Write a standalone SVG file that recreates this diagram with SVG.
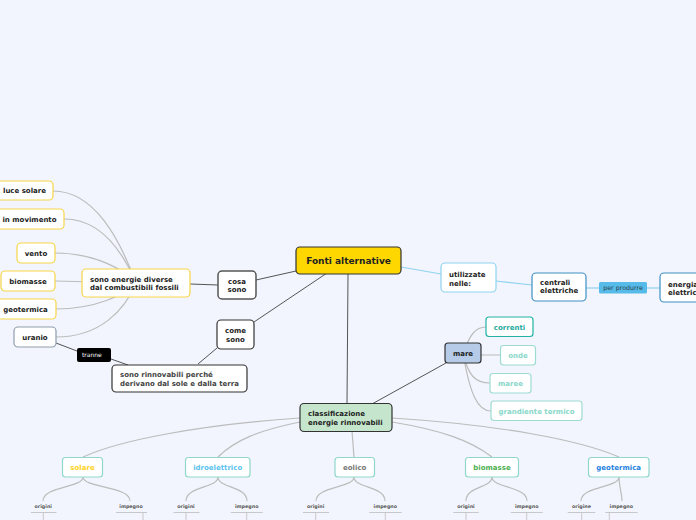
<svg xmlns="http://www.w3.org/2000/svg" width="696" height="520" viewBox="0 0 696 520">
<style>
text{font-family:"DejaVu Sans","Liberation Sans",sans-serif;font-weight:bold;font-size:7px;fill:#222}
.c{text-anchor:middle}
.dk{fill:none;stroke:#555;stroke-width:1}
.gr{fill:none;stroke:#bcbcbc;stroke-width:1.2}
.bl{fill:none;stroke:#8fd3f0;stroke-width:1.2}
.leaf{fill:#fff;stroke:#f7d54a;stroke-width:1.2}
.cat{fill:#fff;stroke:#8fd8cb;stroke-width:1.2}
.sub{font-size:4.8px;fill:#555}
.ul{fill:none;stroke:#c8c8cc;stroke-width:1}
</style>
<rect width="696" height="520" fill="#f2f5fd"/>
<g id="connectors">
<path class="gr" d="M53,191 C95,191 120,240 136,283"/>
<path class="gr" d="M64,219 C100,219 122,250 136,283"/>
<path class="gr" d="M55,253 C95,253 125,270 136,283"/>
<path class="gr" d="M55,281 L136,283"/>
<path class="gr" d="M56,309 C95,309 125,295 136,283"/>
<path class="gr" d="M56,337 C100,337 125,310 136,283"/>
<path class="dk" d="M190,284 L218,285"/>
<path class="dk" d="M296,271 L256,280"/>
<path class="dk" d="M327,273 L254,322"/>
<path class="dk" d="M217,348 L198,364"/>
<path class="dk" d="M56,343 L77,351"/>
<path class="dk" d="M111,359 L128,365"/>
<path class="dk" d="M348,274 L347,403"/>
<path class="bl" d="M401,267 L441,274"/>
<path class="bl" d="M496,281 L532,285"/>
<path class="bl" d="M586,288 L599,288"/>
<path class="bl" d="M647,288 L660,288"/>
<path class="dk" d="M446,363 L372,404"/>
<path class="gr" d="M463,353 C470,335 475,327 486,327"/>
<path class="gr" d="M463,355 L500,355"/>
<path class="gr" d="M463,353 C468,375 475,383 490,383"/>
<path class="gr" d="M463,353 C470,395 478,411 491,411"/>
<path class="gr" d="M300,418 C200,425 120,440 83,457"/>
<path class="gr" d="M300,422 C260,430 235,440 218,457"/>
<path class="gr" d="M352,431 L354,457"/>
<path class="gr" d="M392,422 C440,430 470,440 492,457"/>
<path class="gr" d="M392,418 C500,425 580,440 619,457"/>
<path class="gr" d="M83,477 C83,488 43,486 43,501 M83,477 C83,488 130,486 130,501"/>
<path class="gr" d="M218,477 C218,488 186,486 186,501 M218,477 C218,488 247,486 247,501"/>
<path class="gr" d="M354,477 C354,488 316,486 316,501 M354,477 C354,488 385,486 385,501"/>
<path class="gr" d="M492,477 C492,488 466,486 466,501 M492,477 C492,488 527,486 527,501"/>
<path class="gr" d="M619,477 C619,488 581,486 581,501 M619,477 C619,488 622,492 622,501"/>
</g>
<g id="central"><rect x="296" y="247" width="105" height="27" rx="4" fill="#ffd700" stroke="#333" stroke-width="1.2"/><text class="c" x="348.5" y="264" style="font-size:9px">Fonti alternative</text></g>
<g id="cosa-sono"><rect x="218" y="271" width="38" height="28" rx="4" fill="#fff" stroke="#555" stroke-width="1.5"/><text class="c" x="237" y="284.2">cosa</text><text class="c" x="237" y="292.2">sono</text></g>
<g id="come-sono"><rect x="217" y="320" width="37" height="29" rx="4" fill="#fff" stroke="#333" stroke-width="1.2"/><text class="c" x="235.5" y="333">come</text><text class="c" x="235.5" y="341.5">sono</text></g>
<g id="diverse"><rect x="82" y="269" width="108" height="28" rx="4" class="leaf"/><text x="90" y="281.7">sono energie diverse</text><text x="90" y="290">dal combustibili fossili</text></g>
<g id="luce-solare"><rect x="-5" y="181" width="58" height="19" rx="4" class="leaf"/><text class="c" x="24.5" y="193.2">luce solare</text></g>
<g id="in-movimento"><rect x="-5" y="209" width="69" height="20" rx="4" class="leaf"/><text class="c" x="29.5" y="221.8">in movimento</text></g>
<g id="vento"><rect x="17" y="243" width="38" height="20" rx="4" class="leaf"/><text class="c" x="36" y="256">vento</text></g>
<g id="biomasse-l"><rect x="1" y="271" width="54" height="20" rx="4" class="leaf"/><text class="c" x="28" y="284">biomasse</text></g>
<g id="geotermica-l"><rect x="-5" y="299" width="61" height="20" rx="4" class="leaf"/><text class="c" x="25.5" y="311.8">geotermica</text></g>
<g id="uranio"><rect x="14" y="327" width="42" height="20" rx="4" fill="#fff" stroke="#8f9eae" stroke-width="1.2"/><text class="c" x="35" y="339.8">uranio</text></g>
<g id="tranne"><rect x="77" y="348" width="34" height="14" rx="2" fill="#000"/><text x="82" y="357" style="font-size:6px;font-weight:normal;fill:#fff">tranne</text></g>
<g id="rinnovabili"><rect x="112" y="365" width="135" height="27" rx="4" fill="#fff" stroke="#333" stroke-width="1.2"/><text x="120" y="376.5" style="fill:#444">sono rinnovabili perché</text><text x="120" y="386" style="fill:#444">derivano dal sole e dalla terra</text></g>
<g id="utilizzate"><rect x="441" y="263" width="55" height="29" rx="4" fill="#fff" stroke="#8fd3f0" stroke-width="1.2"/><text x="449" y="276.5">utilizzate</text><text x="449" y="285.5">nelle:</text></g>
<g id="centrali"><rect x="532" y="273" width="54" height="28" rx="4" fill="#fff" stroke="#3d8fc4" stroke-width="1.2"/><text x="540" y="285.3">centrali</text><text x="540" y="293.3">elettriche</text></g>
<g id="per-produrre"><rect x="599" y="282" width="48" height="11.5" rx="1.5" fill="#56bbe8"/><text class="c" x="623" y="290" style="font-size:6.3px;font-weight:normal;fill:#2a3a48">per produrre</text></g>
<g id="energia"><rect x="660" y="273" width="56" height="29" rx="4" fill="#fff" stroke="#3d8fc4" stroke-width="1.2"/><text x="668" y="286.5">energia</text><text x="668" y="294.5">elettrica</text></g>
<g id="mare"><rect x="445" y="343" width="36" height="20" rx="3" fill="#b5cbe8" stroke="#333" stroke-width="1.2"/><text class="c" x="463" y="355.5">mare</text></g>
<g id="correnti"><rect x="486" y="317" width="47" height="19.5" rx="3" fill="#fff" stroke="#22b3a6" stroke-width="1.2"/><text class="c" x="509.5" y="329.5" style="fill:#1fa99d">correnti</text></g>
<g id="onde"><rect x="500.5" y="345.5" width="35" height="19.5" rx="3" fill="#fff" stroke="#9edcd2" stroke-width="1.2"/><text class="c" x="518" y="357.5" style="fill:#8ad7ca">onde</text></g>
<g id="maree"><rect x="490" y="373.5" width="41" height="19.5" rx="3" fill="#fff" stroke="#9edcd2" stroke-width="1.2"/><text class="c" x="510.5" y="385.5" style="fill:#8ad7ca">maree</text></g>
<g id="grandiente"><rect x="491" y="401" width="91" height="19.5" rx="3" fill="#fff" stroke="#9edcd2" stroke-width="1.2"/><text class="c" x="536.5" y="413.5" style="fill:#8ad7ca">grandiente termico</text></g>
<g id="classificazione"><rect x="300" y="403.5" width="92" height="28" rx="4" fill="#c5e6cd" stroke="#333" stroke-width="1.2"/><text x="308" y="415.5">classificazione</text><text x="308" y="424.5">energie rinnovabili</text></g>
<g id="solare"><rect x="62.5" y="457.5" width="40" height="19.5" rx="3" class="cat"/><text class="c" x="82.5" y="470" style="fill:#ffd21f">solare</text><text class="c sub" x="43.3" y="508">origini</text><path class="ul" d="M31,512.5 H56.5 M43.3,512.5 V520"/><text class="c sub" x="131" y="508">impegno</text><path class="ul" d="M116,512.5 H147 M143,512.5 V520"/></g>
<g id="idroelettrico"><rect x="185.5" y="457.5" width="64.5" height="19.5" rx="3" class="cat"/><text class="c" x="217.7" y="470" style="fill:#5bc3ee">idroelettrico</text><text class="c sub" x="186" y="508">origini</text><path class="ul" d="M173.5,512.5 H199.5 M186,512.5 V520"/><text class="c sub" x="246.7" y="508">impegno</text><path class="ul" d="M230.7,512.5 H262.7 M246.7,512.5 V520"/></g>
<g id="eolico"><rect x="335" y="457.5" width="39.5" height="19.5" rx="3" class="cat"/><text class="c" x="354.7" y="470" style="fill:#777">eolico</text><text class="c sub" x="315.7" y="508">origini</text><path class="ul" d="M303,512.5 H329 M315.7,512.5 V520"/><text class="c sub" x="385.3" y="508">impegno</text><path class="ul" d="M369.3,512.5 H401.7 M385.3,512.5 V520"/></g>
<g id="biomasse"><rect x="465.5" y="457.5" width="53" height="19.5" rx="3" class="cat"/><text class="c" x="492" y="470" style="fill:#4caf50">biomasse</text><text class="c sub" x="466" y="508">origini</text><path class="ul" d="M453.3,512.5 H478.7 M466,512.5 V520"/><text class="c sub" x="526.7" y="508">impegno</text><path class="ul" d="M510.7,512.5 H542.7 M526.7,512.5 V520"/></g>
<g id="geotermica"><rect x="588.5" y="457.5" width="60.5" height="19.5" rx="3" class="cat"/><text class="c" x="618.7" y="470" style="fill:#1e7fe0">geotermica</text><text class="c sub" x="581.5" y="508">origine</text><path class="ul" d="M567.7,512.5 H595.3 M581.7,512.5 V520"/><text class="c sub" x="621.3" y="508">impegno</text><path class="ul" d="M605.3,512.5 H637.7 M609.3,512.5 V520"/></g>
</svg>
